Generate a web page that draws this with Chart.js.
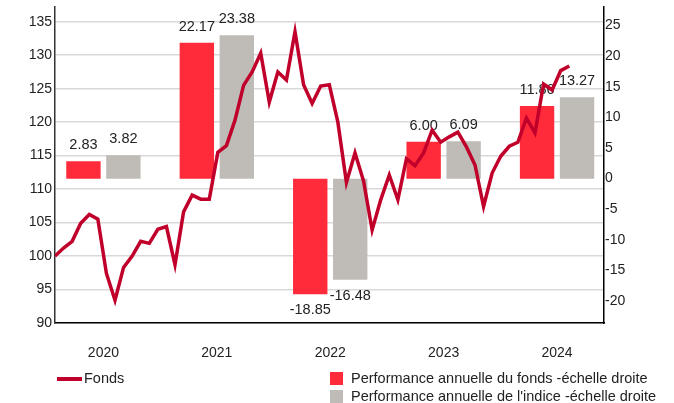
<!DOCTYPE html>
<html>
<head>
<meta charset="utf-8">
<script src="https://cdn.jsdelivr.net/npm/chart.js@4"></script>
<style>
    body { margin: 0; background: #fff; font-family: "Liberation Sans", Arial, sans-serif; }
    #wrap { position: relative; width: 674px; height: 403px; }
    .leg { position: absolute; font-size: 14.5px; color: #222; line-height: 17px; white-space: nowrap; }
    .leg span.ln { position: absolute; left: -27px; top: 7px; width: 25px; height: 3.5px; background: #c0002a; }
    .leg span.sq { position: absolute; left: -21px; top: 2px; width: 13px; height: 13px; }
</style>
</head>
<body>
<div id="wrap">
    <canvas id="graficoPerf"></canvas>
    <div class="leg" style="left:84px; top:370px;"><span class="ln"></span>Fonds</div>
    <div class="leg" style="left:351px; top:370px;"><span class="sq" style="background:#ff2a3a"></span>Performance annuelle du fonds -échelle droite</div>
    <div class="leg" style="left:351px; top:388px;"><span class="sq" style="background:#bfbcb7"></span>Performance annuelle de l'indice -échelle droite</div>
</div>
<script>
// años (etiquetas del eje x)
const anios = [2020, 2021, 2022, 2023, 2024];

// performance anual (escala derecha)
const perfFondo = [2.83, 22.17, -18.85, 6.00, 11.86];
const perfIndice = [3.82, 23.38, -16.48, 6.09, 13.27];

// valor liquidativo mensual del fondo (escala izquierda)
const fondos = [100, 101.2, 102.2, 104.9, 106.2, 105.5, 97.4, 93.4, 98.3, 100,
    102.2, 101.9, 104, 104.4, 98.7, 106.6, 109.1, 108.5, 108.5, 115.5,
    116.5, 120.3, 125.5, 127.5, 130.3, 123, 127.5, 126.3, 133.5, 125.6,
    122.8, 125.4, 125.6, 120, 111, 115.4, 111.2, 103.9, 108.4, 112.1,
    108.4, 114.5, 113.5, 115.4, 118.8, 117, 117.8, 118.5, 116.3, 113.6,
    107.4, 112.4, 114.9, 116.4, 117, 120.6, 118.4, 125.7, 124.8, 127.7, 128.4];

const ticksIzq = [90, 135];
const ticksDer = [-20, 25];

const colorLinea = '#c0002a';
const colorFondo = '#ff2a3a';
const colorIndice = '#bfbcb7';

// Etiquetas de valor sobre/debajo de las barras (antes de dibujar la linea)
const etiquetasBarras = {
    id: 'etiquetasBarras',
    afterDatasetDraw(chart, args) {
        if (args.meta.type !== 'bar') return;
        const ctx = chart.ctx;
        ctx.save();
        ctx.font = '14.5px "Liberation Sans", Arial, sans-serif';
        ctx.fillStyle = '#222';
        ctx.textAlign = 'center';
        ctx.textBaseline = 'middle';
        args.meta.data.forEach((bar, i) => {
            const v = chart.data.datasets[args.index].data[i].y;
            const y = v >= 0 ? bar.y - 16 : bar.y + 16;
            ctx.fillText(v.toFixed(2), bar.x, y);
        });
        ctx.restore();
    }
};

const fuenteEje = { family: '"Liberation Sans", Arial, sans-serif', size: 14 };

// quito el relleno automatico de las etiquetas para fijar el area del grafico
const sinRelleno = s => { s.paddingTop = 0; s.paddingBottom = 0; };

// Chart.js 4.5 reparte el grupo entre los dos ejes x (x y xLine), por eso el porcentaje va doble
const pctCategoria = 1.41;
const pctBarra = 0.86;

new Chart(document.getElementById('graficoPerf'), {
    type: 'bar',
    data: {
        datasets: [
            {
                type: 'line',
                label: 'Fonds',
                data: fondos.map((v, i) => ({ x: i, y: v })),
                xAxisID: 'xLine',
                yAxisID: 'y',
                borderColor: colorLinea,
                borderWidth: 3.5,
                pointRadius: 0,
                tension: 0,
                order: 0
            },
            {
                label: 'Performance annuelle du fonds -échelle droite',
                data: anios.map((a, i) => ({ x: a, y: perfFondo[i] })),
                xAxisID: 'x',
                yAxisID: 'y2',
                backgroundColor: colorFondo,
                categoryPercentage: pctCategoria,
                barPercentage: pctBarra,
                order: 1
            },
            {
                label: "Performance annuelle de l'indice -échelle droite",
                data: anios.map((a, i) => ({ x: a, y: perfIndice[i] })),
                xAxisID: 'x',
                yAxisID: 'y2',
                backgroundColor: colorIndice,
                categoryPercentage: pctCategoria,
                barPercentage: pctBarra,
                order: 1
            }
        ]
    },
    options: {
        responsive: true,
        maintainAspectRatio: false,
        animation: false,
        layout: { padding: { top: 7, left: 0, right: 0, bottom: 0 } },
        plugins: {
            legend: { display: false },
            tooltip: { enabled: false }
        },
        scales: {
            x: {
                type: 'linear',
                position: 'bottom',
                offset: false,
                min: 2019.573,
                max: 2024.414,
                grid: { display: false, drawTicks: false, offset: false },
                border: { color: '#000', width: 1.5 },
                ticks: {
                    stepSize: 1,
                    includeBounds: false,
                    padding: 22,
                    color: '#222',
                    font: fuenteEje,
                    callback: v => anios.includes(v) ? String(v) : ''
                },
                afterFit: s => { s.height = 80; s.paddingLeft = 0; s.paddingRight = 0; }
            },
            xLine: {
                type: 'linear',
                display: false,
                offset: false,
                grid: { offset: false },
                min: 0,
                max: 64.05
            },
            y: {
                position: 'left',
                min: ticksIzq[0],
                max: 137.2,
                grid: { color: '#d9d9d9', lineWidth: 1.5, drawTicks: false },
                border: { color: '#333', width: 1.5 },
                ticks: {
                    stepSize: 5,
                    includeBounds: false,
                    padding: 3,
                    color: '#222',
                    font: fuenteEje
                },
                afterFit: s => { s.width = 55; sinRelleno(s); }
            },
            y2: {
                position: 'right',
                min: -23.55,
                max: 28.0,
                grid: { display: false, drawTicks: false },
                border: { color: '#000', width: 1.5 },
                ticks: {
                    stepSize: 5,
                    includeBounds: false,
                    padding: 1,
                    color: '#222',
                    font: fuenteEje,
                    callback: v => (v >= ticksDer[0] && v <= ticksDer[1]) ? String(v) : ''
                },
                afterFit: s => { s.width = 70; sinRelleno(s); }
            }
        }
    },
    plugins: [etiquetasBarras]
});
</script>
</body>
</html>
